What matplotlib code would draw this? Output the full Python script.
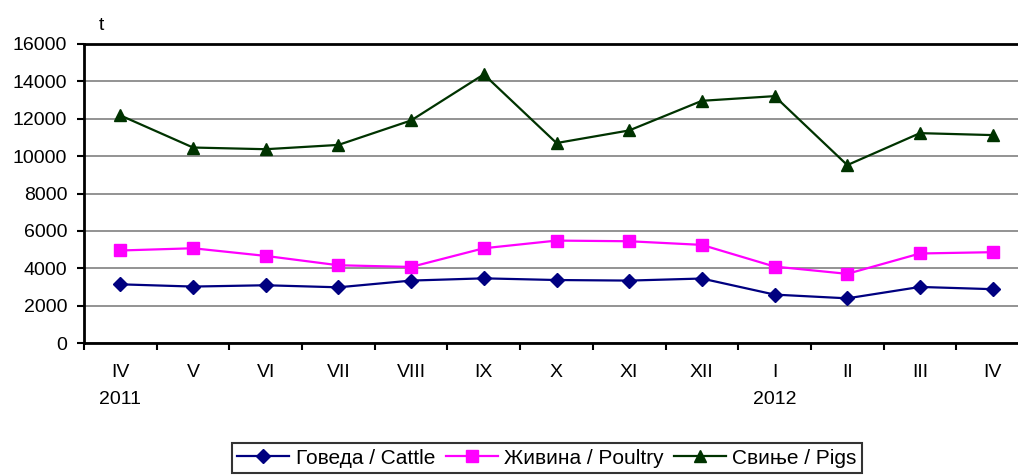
import numpy as np
import matplotlib.pyplot as plt

plt.rcParams['font.family'] = ['Liberation Sans', 'DejaVu Sans']

# Data (t)
months = ['IV', 'V', 'VI', 'VII', 'VIII', 'IX', 'X', 'XI', 'XII', 'I', 'II', 'III', 'IV']
years = ['2011', '', '', '', '', '', '', '', '', '2012', '', '', '']
cattle = [3140, 3020, 3090, 2980, 3340, 3460, 3370, 3340, 3450, 2590, 2390, 3000, 2880]
poultry = [4950, 5070, 4660, 4160, 4070, 5070, 5480, 5445, 5250, 4090, 3700, 4790, 4860]
pigs = [12180, 10460, 10370, 10600, 11910, 14375, 10700, 11375, 12960, 13210, 9520, 11230, 11125]

labels = ['Говеда / Cattle', 'Живина / Poultry', 'Свиње / Pigs']

fig = plt.figure(figsize=(10.18, 4.75), dpi=100)
ax = fig.add_axes([84/1018, 132/475, 945/1018, 299/475])

x = np.arange(len(months))
ax.plot(x, cattle, color='#000080', lw=1.6, marker='D', ms=7, label=labels[0])
ax.plot(x, poultry, color='#FF00FF', lw=1.6, marker='s', ms=8, label=labels[1])
ax.plot(x, pigs, color='#003300', lw=1.6, marker='^', ms=9, label=labels[2])

ax.set_xlim(-0.5, len(months) - 0.5)
ax.set_ylim(0, 16000)
ax.set_yticks(np.arange(0, 16001, 2000))
ax.yaxis.grid(True, color='#808080', lw=1.2)
ax.set_axisbelow(True)

# category boundaries get tick marks, centres get labels
ax.set_xticks(np.arange(-0.5, len(months), 1.0))
ax.set_xticklabels([])
ax.set_xticks(x, minor=True)
ax.set_xticklabels([m + '\n' + y for m, y in zip(months, years)], minor=True)
for t in ax.get_xticklabels(minor=True):
    t.set_linespacing(1.75)
ax.tick_params(axis='x', which='major', length=5, width=1.5, direction='out')
ax.tick_params(axis='x', which='minor', length=0, pad=15, labelsize=14)
ax.tick_params(axis='y', length=5, width=1.5, direction='out', labelsize=14, pad=7)

for s in ['left', 'bottom', 'top']:
    ax.spines[s].set_linewidth(2)
    ax.spines[s].set_color('black')
ax.spines['right'].set_visible(False)

fig.text(101/1018, 1 - 26/475, 't', fontsize=14, ha='center', va='center')

leg = fig.legend(loc='center', bbox_to_anchor=(547/1018, 1 - 458/475), ncol=3,
                 fontsize=15, frameon=True, fancybox=False, edgecolor='black',
                 handlelength=2.5, columnspacing=0.5, handletextpad=0.3,
                 borderpad=0.25, borderaxespad=0)
leg.get_frame().set_linewidth(1.5)

fig.savefig('out.png', dpi=100)
